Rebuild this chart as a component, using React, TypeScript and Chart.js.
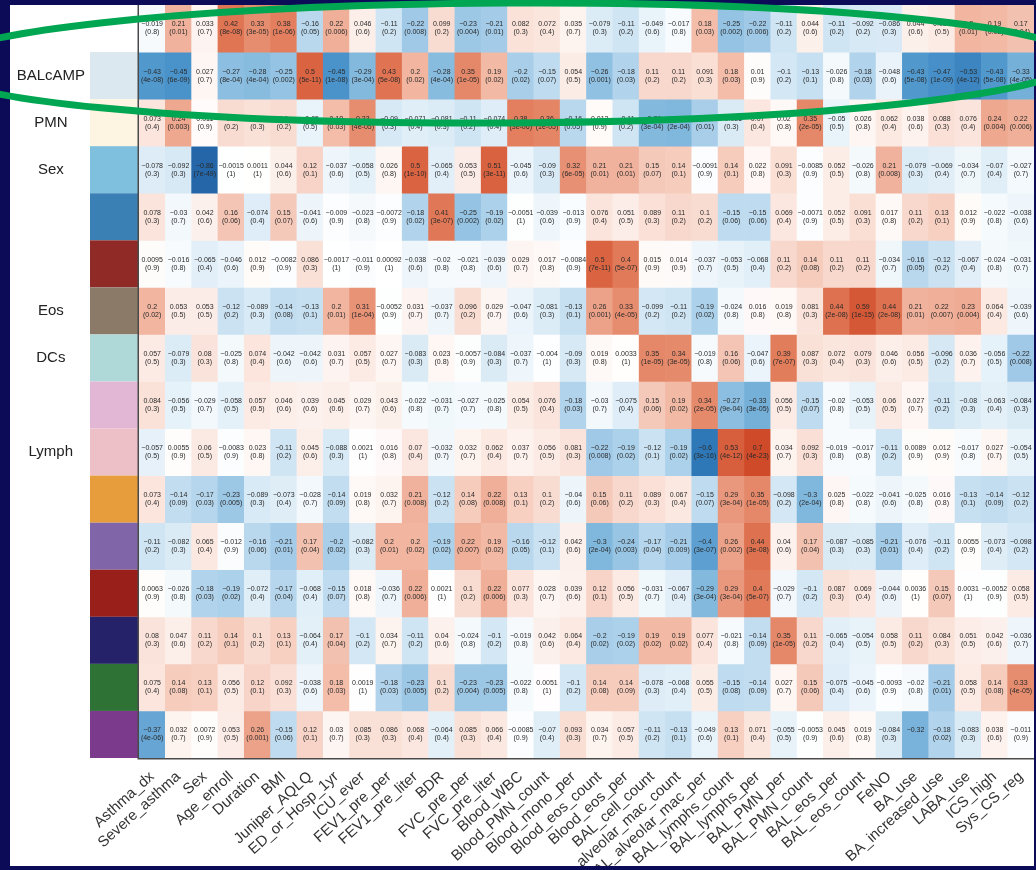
import React, { useEffect, useRef } from "react";
import { Chart, registerables } from "chart.js";

Chart.register(...registerables);

// ---------------- DATA ----------------
const columns = [
  "Asthma_dx", "Severe_asthma", "Sex", "Age_enroll", "Duration", "BMI", "Juniper_AQLQ",
  "ED_or_Hosp_1yr", "ICU_ever", "FEV1_pre_per", "FEV1_pre_liter", "BDR", "FVC_pre_per",
  "FVC_pre_liter", "Blood_WBC", "Blood_PMN_count", "Blood_mono_per", "Blood_eos_count",
  "Blood_eos_per", "BAL_cell_count", "BAL_alveolar_mac_count", "BAL_alveolar_mac_per",
  "BAL_lymphs_count", "BAL_lymphs_per", "BAL_PMN_per", "BAL_PMN_count", "BAL_eos_per",
  "BAL_eos_count", "FeNO", "BA_use", "BA_increased_use", "LABA_use", "ICS_high", "Sys_CS_reg",
];

const rowLabels = ["", "BALcAMP", "PMN", "Sex", "", "", "Eos", "DCs", "", "Lymph", "", "", "", "", "", ""];

const moduleColors = [
  "", "#dce8ef", "#fdf5e2", "#7ec0dd", "#3b80b5", "#8f2a26", "#8b7a68", "#afd8d8",
  "#e2b7d5", "#ecc0c6", "#e89d3c", "#8066a8", "#991f1a", "#25226a", "#2e7335", "#7b3a8b",
];

const corrTop = [-0.019, 0.21, 0.033, 0.42, 0.33, 0.38, -0.16, 0.22, 0.046, -0.11, -0.22, 0.099, -0.23, -0.21, 0.082, 0.072, 0.035, -0.079, -0.11, -0.049, -0.017, 0.18, -0.25, -0.22, -0.11, 0.044, -0.11, -0.092, -0.086, 0.044, 0.058, 0.2, 0.19, 0.17];
const pTop = ["(0.8)", "(0.01)", "(0.7)", "(8e-08)", "(3e-05)", "(1e-06)", "(0.05)", "(0.006)", "(0.6)", "(0.2)", "(0.008)", "(0.2)", "(0.004)", "(0.01)", "(0.3)", "(0.4)", "(0.7)", "(0.3)", "(0.2)", "(0.6)", "(0.8)", "(0.03)", "(0.002)", "(0.006)", "(0.2)", "(0.6)", "(0.2)", "(0.2)", "(0.3)", "(0.6)", "(0.5)", "(0.01)", "(0.02)", "(0.04)"];

const corrBALcAMP = [-0.43, -0.45, 0.027, -0.27, -0.28, -0.25, 0.5, -0.45, -0.29, 0.43, 0.2, -0.28, 0.35, 0.19, -0.2, -0.15, 0.054, -0.26, -0.18, 0.11, 0.11, 0.091, 0.18, 0.01, -0.1, -0.13, -0.026, -0.18, -0.048, -0.43, -0.47, -0.53, -0.43, -0.33];
const pBALcAMP = ["(4e-08)", "(6e-09)", "(0.7)", "(8e-04)", "(4e-04)", "(0.002)", "(5e-11)", "(1e-08)", "(3e-04)", "(5e-08)", "(0.02)", "(4e-04)", "(1e-05)", "(0.02)", "(0.02)", "(0.07)", "(0.5)", "(0.001)", "(0.03)", "(0.2)", "(0.2)", "(0.3)", "(0.03)", "(0.9)", "(0.2)", "(0.1)", "(0.8)", "(0.03)", "(0.6)", "(5e-08)", "(1e-09)", "(4e-12)", "(5e-08)", "(4e-05)"];

const corrPMN = [0.073, 0.24, 0.011, 0.1, 0.085, 0.1, -0.05, 0.18, 0.33, -0.09, -0.071, -0.081, -0.11, -0.074, 0.38, 0.36, -0.16, 0.012, -0.11, -0.29, -0.3, -0.2, -0.085, 0.07, 0.02, 0.35, -0.05, 0.026, 0.062, 0.038, 0.088, 0.076, 0.24, 0.22];
const pPMN = ["(0.4)", "(0.003)", "(0.9)", "(0.2)", "(0.3)", "(0.2)", "(0.5)", "(0.03)", "(4e-05)", "(0.3)", "(0.4)", "(0.3)", "(0.2)", "(0.4)", "(3e-06)", "(1e-05)", "(0.05)", "(0.9)", "(0.2)", "(3e-04)", "(2e-04)", "(0.01)", "(0.3)", "(0.4)", "(0.8)", "(2e-05)", "(0.5)", "(0.8)", "(0.4)", "(0.6)", "(0.3)", "(0.4)", "(0.004)", "(0.006)"];

const corrSex = [-0.078, -0.092, -0.86, -0.0015, 0.0011, 0.044, 0.12, -0.037, -0.058, 0.026, 0.5, -0.065, 0.053, 0.51, -0.045, -0.09, 0.32, 0.21, 0.21, 0.15, 0.14, -0.0091, 0.14, 0.022, 0.091, -0.0085, 0.052, -0.026, 0.21, -0.079, -0.069, -0.034, -0.07, -0.027];
const pSex = ["(0.3)", "(0.3)", "(7e-49)", "(1)", "(1)", "(0.6)", "(0.1)", "(0.6)", "(0.5)", "(0.8)", "(1e-10)", "(0.4)", "(0.5)", "(3e-11)", "(0.6)", "(0.3)", "(6e-05)", "(0.01)", "(0.01)", "(0.07)", "(0.1)", "(0.9)", "(0.1)", "(0.8)", "(0.3)", "(0.9)", "(0.5)", "(0.8)", "(0.008)", "(0.3)", "(0.4)", "(0.7)", "(0.4)", "(0.7)"];

const corrSteel = [0.078, -0.03, 0.042, 0.16, -0.074, 0.15, -0.041, -0.009, -0.023, -0.0072, -0.18, 0.41, -0.25, -0.19, -0.0051, -0.039, -0.013, 0.076, 0.051, 0.089, 0.11, 0.1, -0.15, -0.15, 0.069, -0.0071, 0.052, 0.091, 0.017, 0.11, 0.13, 0.012, -0.022, -0.038];
const pSteel = ["(0.3)", "(0.7)", "(0.6)", "(0.06)", "(0.4)", "(0.07)", "(0.6)", "(0.9)", "(0.8)", "(0.9)", "(0.02)", "(3e-07)", "(0.002)", "(0.02)", "(1)", "(0.6)", "(0.9)", "(0.4)", "(0.5)", "(0.3)", "(0.2)", "(0.2)", "(0.06)", "(0.06)", "(0.4)", "(0.9)", "(0.5)", "(0.3)", "(0.8)", "(0.2)", "(0.1)", "(0.9)", "(0.8)", "(0.6)"];

const corrDarkRed1 = [0.0095, -0.016, -0.065, -0.046, 0.012, -0.0082, 0.086, -0.0017, -0.011, 0.00092, -0.038, -0.02, -0.021, -0.039, 0.029, 0.017, -0.0084, 0.5, 0.4, 0.015, 0.014, -0.037, -0.053, -0.068, 0.11, 0.14, 0.11, 0.11, -0.034, -0.16, -0.12, -0.067, -0.024, -0.031];
const pDarkRed1 = ["(0.9)", "(0.8)", "(0.4)", "(0.6)", "(0.9)", "(0.9)", "(0.3)", "(1)", "(0.9)", "(1)", "(0.6)", "(0.8)", "(0.8)", "(0.6)", "(0.7)", "(0.8)", "(0.9)", "(7e-11)", "(5e-07)", "(0.9)", "(0.9)", "(0.7)", "(0.5)", "(0.4)", "(0.2)", "(0.08)", "(0.2)", "(0.2)", "(0.7)", "(0.05)", "(0.2)", "(0.4)", "(0.8)", "(0.7)"];

const corrEos = [0.2, 0.053, 0.053, -0.12, -0.089, -0.14, -0.13, 0.2, 0.31, -0.0052, 0.031, -0.037, 0.096, 0.029, -0.047, -0.081, -0.13, 0.26, 0.33, -0.099, -0.11, -0.19, -0.024, 0.016, 0.019, 0.081, 0.44, 0.59, 0.44, 0.21, 0.22, 0.23, 0.064, -0.039];
const pEos = ["(0.02)", "(0.5)", "(0.5)", "(0.2)", "(0.3)", "(0.08)", "(0.1)", "(0.01)", "(1e-04)", "(0.9)", "(0.7)", "(0.7)", "(0.2)", "(0.7)", "(0.6)", "(0.3)", "(0.1)", "(0.001)", "(4e-05)", "(0.2)", "(0.2)", "(0.02)", "(0.8)", "(0.8)", "(0.8)", "(0.3)", "(2e-08)", "(1e-15)", "(2e-08)", "(0.01)", "(0.007)", "(0.004)", "(0.4)", "(0.6)"];

const corrDCs = [0.057, -0.079, 0.08, -0.025, 0.074, -0.042, -0.042, 0.031, 0.057, 0.027, -0.083, 0.023, -0.0057, -0.084, -0.037, -0.004, -0.09, 0.019, 0.0033, 0.35, 0.34, -0.019, 0.16, -0.047, 0.39, 0.087, 0.072, 0.079, 0.046, 0.056, -0.096, 0.036, -0.056, -0.22];
const pDCs = ["(0.5)", "(0.3)", "(0.3)", "(0.8)", "(0.4)", "(0.6)", "(0.6)", "(0.7)", "(0.5)", "(0.7)", "(0.3)", "(0.8)", "(0.9)", "(0.3)", "(0.7)", "(1)", "(0.3)", "(0.8)", "(1)", "(1e-05)", "(3e-05)", "(0.8)", "(0.06)", "(0.6)", "(7e-07)", "(0.3)", "(0.4)", "(0.3)", "(0.6)", "(0.5)", "(0.2)", "(0.7)", "(0.5)", "(0.008)"];

const corrLilac = [0.084, -0.056, -0.029, -0.058, 0.057, 0.046, 0.039, 0.045, 0.029, 0.043, -0.022, -0.031, -0.027, -0.025, 0.054, 0.076, -0.18, -0.03, -0.075, 0.15, 0.19, 0.34, -0.27, -0.33, 0.056, -0.15, -0.02, -0.053, 0.06, 0.027, -0.11, -0.08, -0.063, -0.084];
const pLilac = ["(0.3)", "(0.5)", "(0.7)", "(0.5)", "(0.5)", "(0.6)", "(0.6)", "(0.6)", "(0.7)", "(0.6)", "(0.8)", "(0.7)", "(0.7)", "(0.8)", "(0.5)", "(0.4)", "(0.03)", "(0.7)", "(0.4)", "(0.06)", "(0.02)", "(2e-05)", "(9e-04)", "(3e-05)", "(0.5)", "(0.07)", "(0.8)", "(0.5)", "(0.5)", "(0.7)", "(0.2)", "(0.3)", "(0.4)", "(0.3)"];

const corrLymph = [-0.057, 0.0055, 0.06, -0.0083, 0.023, -0.11, 0.045, -0.088, 0.0021, 0.016, 0.07, -0.032, 0.032, 0.062, 0.037, 0.056, 0.081, -0.22, -0.19, -0.12, -0.19, -0.6, 0.53, 0.7, 0.034, 0.092, -0.019, -0.017, -0.11, 0.0089, 0.012, -0.017, 0.027, -0.054];
const pLymph = ["(0.5)", "(0.9)", "(0.5)", "(0.9)", "(0.8)", "(0.2)", "(0.6)", "(0.3)", "(1)", "(0.8)", "(0.4)", "(0.7)", "(0.7)", "(0.4)", "(0.7)", "(0.5)", "(0.3)", "(0.008)", "(0.02)", "(0.1)", "(0.02)", "(3e-16)", "(4e-12)", "(4e-23)", "(0.7)", "(0.3)", "(0.8)", "(0.8)", "(0.2)", "(0.9)", "(0.9)", "(0.8)", "(0.7)", "(0.5)"];

const corrOrange = [0.073, -0.14, -0.17, -0.23, -0.089, -0.073, -0.028, -0.14, 0.019, 0.032, 0.21, -0.12, 0.14, 0.22, 0.13, 0.1, -0.04, 0.15, 0.11, 0.089, 0.067, -0.15, 0.29, 0.35, -0.098, -0.3, 0.025, -0.022, -0.041, -0.025, 0.016, -0.13, -0.14, -0.12];
const pOrange = ["(0.4)", "(0.09)", "(0.03)", "(0.005)", "(0.3)", "(0.4)", "(0.7)", "(0.09)", "(0.8)", "(0.7)", "(0.008)", "(0.2)", "(0.08)", "(0.008)", "(0.1)", "(0.2)", "(0.6)", "(0.06)", "(0.2)", "(0.3)", "(0.4)", "(0.07)", "(3e-04)", "(1e-05)", "(0.2)", "(2e-04)", "(0.8)", "(0.8)", "(0.6)", "(0.8)", "(0.8)", "(0.1)", "(0.09)", "(0.2)"];

const corrPurple = [-0.11, -0.082, 0.065, -0.012, -0.16, -0.21, 0.17, -0.2, -0.082, 0.2, 0.2, -0.19, 0.22, 0.19, -0.16, -0.12, 0.042, -0.3, -0.24, -0.17, -0.21, -0.4, 0.26, 0.44, 0.04, 0.17, -0.087, -0.085, -0.21, -0.076, -0.11, 0.0055, -0.073, -0.098];
const pPurple = ["(0.2)", "(0.3)", "(0.4)", "(0.9)", "(0.06)", "(0.01)", "(0.04)", "(0.02)", "(0.3)", "(0.01)", "(0.02)", "(0.02)", "(0.007)", "(0.02)", "(0.05)", "(0.1)", "(0.6)", "(2e-04)", "(0.003)", "(0.04)", "(0.009)", "(3e-07)", "(0.002)", "(3e-08)", "(0.6)", "(0.04)", "(0.3)", "(0.3)", "(0.01)", "(0.4)", "(0.2)", "(0.9)", "(0.4)", "(0.2)"];

const corrDarkRed2 = [0.0063, -0.026, -0.18, -0.19, -0.072, -0.17, -0.068, -0.15, 0.018, -0.036, 0.22, 0.0021, 0.1, 0.22, 0.077, 0.028, 0.039, 0.12, 0.056, -0.031, -0.067, -0.29, 0.29, 0.4, -0.029, -0.1, 0.087, 0.069, -0.044, 0.0036, 0.15, 0.0031, -0.0052, 0.058];
const pDarkRed2 = ["(0.9)", "(0.8)", "(0.03)", "(0.02)", "(0.4)", "(0.04)", "(0.4)", "(0.07)", "(0.8)", "(0.7)", "(0.006)", "(1)", "(0.2)", "(0.006)", "(0.3)", "(0.7)", "(0.6)", "(0.1)", "(0.5)", "(0.7)", "(0.4)", "(3e-04)", "(3e-04)", "(5e-07)", "(0.7)", "(0.2)", "(0.3)", "(0.4)", "(0.6)", "(1)", "(0.07)", "(1)", "(0.9)", "(0.5)"];

const corrNavy = [0.08, 0.047, 0.11, 0.14, 0.1, 0.13, -0.064, 0.17, -0.1, 0.034, -0.11, 0.04, -0.024, -0.1, -0.019, 0.042, 0.064, -0.2, -0.19, 0.19, 0.19, 0.077, -0.021, -0.14, 0.35, 0.11, -0.065, -0.054, 0.058, 0.11, 0.084, 0.051, 0.042, -0.036];
const pNavy = ["(0.3)", "(0.6)", "(0.2)", "(0.1)", "(0.2)", "(0.1)", "(0.4)", "(0.04)", "(0.2)", "(0.7)", "(0.2)", "(0.6)", "(0.8)", "(0.2)", "(0.8)", "(0.6)", "(0.4)", "(0.02)", "(0.02)", "(0.02)", "(0.02)", "(0.4)", "(0.8)", "(0.09)", "(1e-05)", "(0.2)", "(0.4)", "(0.5)", "(0.5)", "(0.2)", "(0.3)", "(0.5)", "(0.6)", "(0.7)"];

const corrGreen = [0.075, 0.14, 0.13, 0.056, 0.12, 0.092, -0.038, 0.18, 0.0019, -0.18, -0.23, 0.1, -0.23, -0.23, -0.022, 0.0051, -0.1, 0.14, 0.14, -0.078, -0.068, 0.055, -0.15, -0.14, 0.027, 0.15, -0.075, -0.045, -0.0093, -0.02, -0.21, 0.058, 0.14, 0.33];
const pGreen = ["(0.4)", "(0.08)", "(0.1)", "(0.5)", "(0.1)", "(0.3)", "(0.6)", "(0.03)", "(1)", "(0.03)", "(0.005)", "(0.2)", "(0.004)", "(0.005)", "(0.8)", "(1)", "(0.2)", "(0.08)", "(0.09)", "(0.3)", "(0.4)", "(0.5)", "(0.08)", "(0.09)", "(0.7)", "(0.06)", "(0.4)", "(0.6)", "(0.9)", "(0.8)", "(0.01)", "(0.5)", "(0.08)", "(4e-05)"];

const corrMagenta = [-0.37, 0.032, 0.0072, 0.053, 0.26, -0.15, 0.12, 0.03, 0.085, 0.086, 0.068, -0.064, 0.085, 0.066, -0.0085, -0.07, 0.093, 0.034, 0.057, -0.11, -0.13, -0.049, 0.13, 0.071, -0.055, -0.0053, 0.045, 0.019, -0.084, -0.32, -0.18, -0.083, 0.038, -0.011];
const pMagenta = ["(4e-06)", "(0.7)", "(0.9)", "(0.5)", "(0.001)", "(0.06)", "(0.1)", "(0.7)", "(0.3)", "(0.3)", "(0.4)", "(0.4)", "(0.3)", "(0.4)", "(0.9)", "(0.4)", "(0.3)", "(0.7)", "(0.5)", "(0.2)", "(0.1)", "(0.6)", "(0.1)", "(0.4)", "(0.5)", "(0.9)", "(0.6)", "(0.8)", "(0.3)", "", "(0.02)", "(0.3)", "(0.6)", "(0.9)"];

const corrRows = [corrTop, corrBALcAMP, corrPMN, corrSex, corrSteel, corrDarkRed1, corrEos, corrDCs, corrLilac, corrLymph, corrOrange, corrPurple, corrDarkRed2, corrNavy, corrGreen, corrMagenta];
const pRows = [pTop, pBALcAMP, pPMN, pSex, pSteel, pDarkRed1, pEos, pDCs, pLilac, pLymph, pOrange, pPurple, pDarkRed2, pNavy, pGreen, pMagenta];

// ---------------- STYLE ----------------
const colorStops: [number, string][] = [
  [-0.9, "#2363a6"],
  [-0.6, "#2f78b8"],
  [-0.45, "#4a93ca"],
  [-0.3, "#80b7dd"],
  [-0.2, "#a8cee9"],
  [-0.1, "#d3e7f4"],
  [0, "#ffffff"],
  [0.1, "#f9dcd1"],
  [0.2, "#f1b5a0"],
  [0.3, "#e99579"],
  [0.4, "#e17a59"],
  [0.5, "#da6341"],
  [0.7, "#cf4a28"],
];

function hexRgb(h: string) {
  return [parseInt(h.slice(1, 3), 16), parseInt(h.slice(3, 5), 16), parseInt(h.slice(5, 7), 16)];
}

function colorFor(v: number) {
  if (v <= colorStops[0][0]) return colorStops[0][1];
  for (let i = 0; i < colorStops.length - 1; i++) {
    const [a, ca] = colorStops[i];
    const [b, cb] = colorStops[i + 1];
    if (v >= a && v <= b) {
      const t = (v - a) / (b - a);
      const A = hexRgb(ca), B = hexRgb(cb);
      const c = A.map((x, k) => Math.round(x + (B[k] - x) * t));
      return `rgb(${c[0]},${c[1]},${c[2]})`;
    }
  }
  return colorStops[colorStops.length - 1][1];
}

const FONT = '"Liberation Sans", Arial, Helvetica, sans-serif';
const NAVY = "#0b0b57";

function fmt(v: number) {
  return String(v).replace("-", "\u2212");
}

const heatPlugin = {
  id: "heatDecor",
  beforeDraw(chart: any) {
    const ctx = chart.ctx;
    ctx.save();
    ctx.fillStyle = "#ffffff";
    ctx.fillRect(0, 0, chart.width, chart.height);
    ctx.restore();
  },
  afterDatasetsDraw(chart: any) {
    const ctx = chart.ctx;
    const ys = chart.scales.y;
    const area = chart.chartArea;
    ctx.save();
    // module colour column
    moduleColors.forEach((c, i) => {
      if (!c) return;
      const t = ys.getPixelForValue(i);
      const b = ys.getPixelForValue(i + 1);
      ctx.fillStyle = c;
      ctx.fillRect(90, t, area.left - 1 - 90, b - t);
    });
    // cell texts
    ctx.font = `7px ${FONT}`;
    ctx.textAlign = "center";
    ctx.textBaseline = "middle";
    ctx.fillStyle = "#2a2a2a";
    corrRows.forEach((vals, i) => {
      const meta = chart.getDatasetMeta(i);
      meta.data.forEach((el: any, j: number) => {
        const p = el.getProps(["x", "y", "base"], true);
        const cy = (p.y + p.base) / 2;
        ctx.fillText(fmt(vals[j]), p.x, cy - 4);
        if (pRows[i][j]) ctx.fillText(pRows[i][j], p.x, cy + 4);
      });
    });
    // frame
    ctx.strokeStyle = "#4a4a4a";
    ctx.lineWidth = 1.5;
    ctx.beginPath();
    ctx.moveTo(area.left - 0.75, area.top);
    ctx.lineTo(area.left - 0.75, area.bottom + 0.75);
    ctx.lineTo(area.right, area.bottom + 0.75);
    ctx.stroke();
    ctx.restore();
  },
  afterDraw(chart: any) {
    const ctx = chart.ctx;
    const W = chart.width, H = chart.height;
    ctx.save();
    ctx.fillStyle = NAVY;
    ctx.fillRect(0, 0, W, 5);
    ctx.fillRect(0, 0, 10, H);
    ctx.fillRect(0, 866, W, H - 866);
    ctx.fillRect(1034, 0, W - 1034, H);
    // green ellipse annotation
    ctx.strokeStyle = "#00a651";
    ctx.lineWidth = 7;
    ctx.beginPath();
    ctx.ellipse(505, 63, 572, 60, -0.006, 0, Math.PI * 2);
    ctx.stroke();
    ctx.restore();
  },
};

export default function App() {
  const ref = useRef<HTMLCanvasElement>(null);
  useEffect(() => {
    const datasets = corrRows.map((vals, i) => ({
      label: rowLabels[i] || `module_${i}`,
      data: vals.map(() => [i, i + 1]),
      backgroundColor: vals.map((v) => colorFor(v)),
      borderWidth: 0,
      barPercentage: 1,
      categoryPercentage: 1,
      grouped: false,
    }));
    const chart = new Chart(ref.current as HTMLCanvasElement, {
      type: "bar",
      data: { labels: columns, datasets: datasets as any },
      plugins: [heatPlugin as any],
      options: {
        animation: false,
        responsive: false,
        devicePixelRatio: 1,
        layout: { padding: { left: 0, top: 5, right: 2, bottom: 0 } },
        plugins: { legend: { display: false }, tooltip: { enabled: false } },
        scales: {
          x: {
            type: "category",
            offset: true,
            grid: { display: false, drawTicks: false },
            border: { display: false },
            ticks: {
              autoSkip: false,
              minRotation: 42,
              maxRotation: 42,
              padding: 10,
              color: "#333333",
              font: { family: FONT, size: 15 },
            },
            afterFit: (s: any) => {
              s.height = 112;
              s.paddingLeft = 0;
              s.paddingRight = 0;
            },
          },
          y: {
            type: "linear",
            min: 0,
            max: 16,
            reverse: true,
            grid: { display: false, drawTicks: false },
            border: { display: false },
            afterBuildTicks: (s: any) => {
              s.ticks = rowLabels.map((_, i) => ({ value: i + 0.5 }));
            },
            ticks: {
              crossAlign: "center",
              padding: 54,
              color: "#222222",
              font: { family: FONT, size: 15 },
              callback: (_v: any, idx: number) => rowLabels[idx],
            },
            afterFit: (s: any) => {
              s.width = 139;
              s.paddingTop = 0;
              s.paddingBottom = 0;
            },
          },
        },
      } as any,
    });
    return () => chart.destroy();
  }, []);
  return (
    <div style={{ position: "fixed", left: 0, top: 0, width: 1036, height: 870, background: "#fff" }}>
      <canvas ref={ref} width={1036} height={870} style={{ display: "block", width: 1036, height: 870 }} />
    </div>
  );
}
